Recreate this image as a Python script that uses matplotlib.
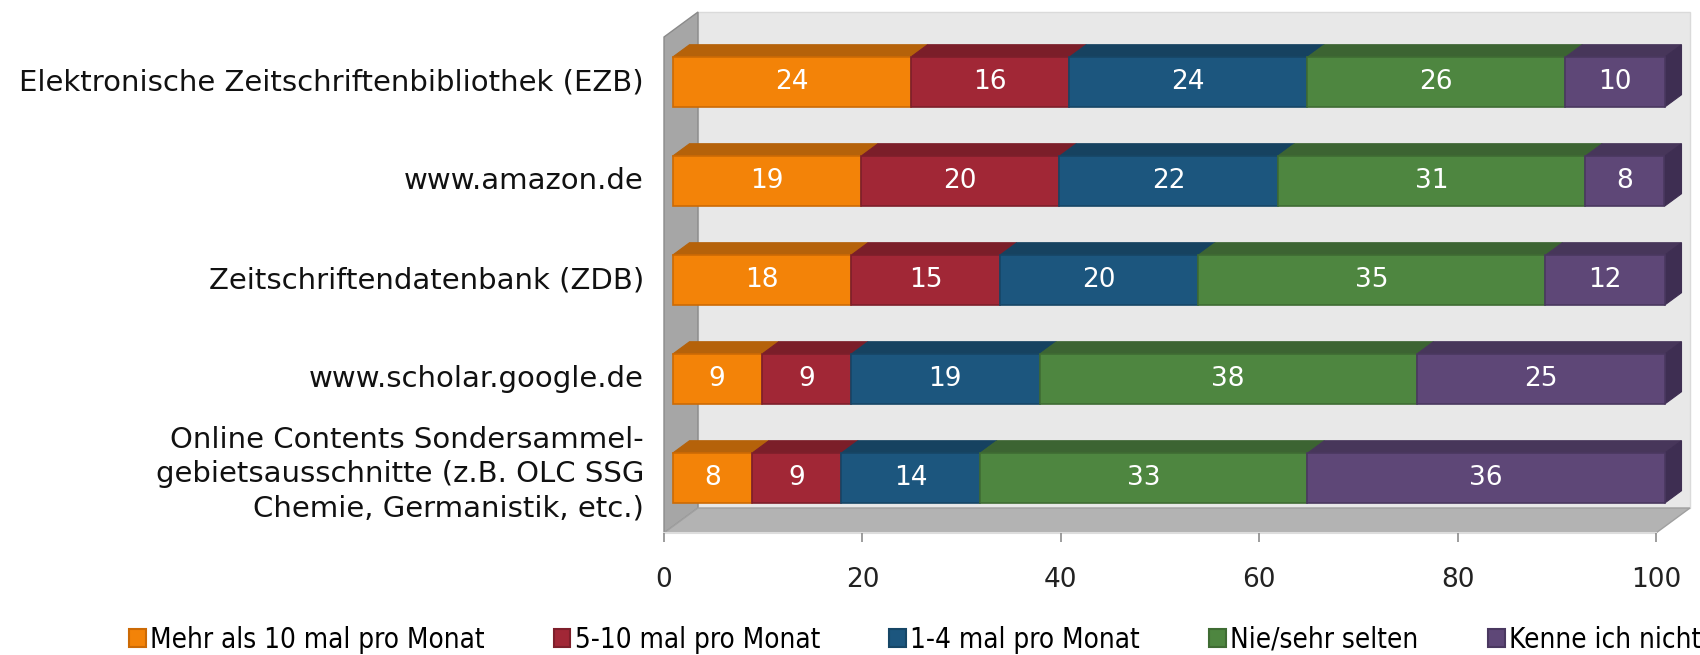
import matplotlib
matplotlib.use("Agg")
import matplotlib.pyplot as plt
from matplotlib.patches import Polygon, Patch
from matplotlib.transforms import ScaledTranslation
import numpy as np

categories = [
    "Elektronische Zeitschriftenbibliothek (EZB)",
    "www.amazon.de",
    "Zeitschriftendatenbank (ZDB)",
    "www.scholar.google.de",
    "Online Contents Sondersammel-\ngebietsausschnitte (z.B. OLC SSG\nChemie, Germanistik, etc.)",
]
series_names = ["Mehr als 10 mal pro Monat", "5-10 mal pro Monat", "1-4 mal pro Monat",
                "Nie/sehr selten", "Kenne ich nicht"]
mehr10 = [24, 19, 18, 9, 8]
mal5_10 = [16, 20, 15, 9, 9]
mal1_4 = [24, 22, 20, 19, 14]
nie = [26, 31, 35, 38, 33]
kenne = [10, 8, 12, 25, 36]
xticks = [0, 20, 40, 60, 80, 100]

series = [mehr10, mal5_10, mal1_4, nie, kenne]
front_c = ['#F38308', '#A12736', '#1C567E', '#4E8640', '#5E4777']
top_c = ['#B5620A', '#7B1E29', '#164260', '#3C6432', '#47365A']
edge_c = ['#CC6A05', '#7E1F2B', '#164666', '#3F6C33', '#4A3860']
side_c = '#3E2E52'

fig = plt.figure(figsize=(17, 6.55), dpi=100)
W, H = 1700, 655
ax = fig.add_axes([664 / W, (H - 533) / H, (1656 - 664) / W, (533 - 37) / H])
ax.set_xlim(0, 100)
ylo, yhi = 4.49, -0.52
ax.set_ylim(ylo, yhi)
ax.patch.set_alpha(0)
for s in ax.spines.values():
    s.set_visible(False)

DX = 34 / 9.92       # depth offset in x data units
DY = -25 / 99.0      # depth offset in y data units
hh = 0.2525          # half bar height

# walls and floor
back = Polygon([(DX, yhi + DY), (100 + DX, yhi + DY), (100 + DX, ylo + DY), (DX, ylo + DY)],
               closed=True, fc='#E8E8E8', ec='#DADADA', lw=1, clip_on=False, zorder=0)
left = Polygon([(0, yhi), (DX, yhi + DY), (DX, ylo + DY), (0, ylo)],
               closed=True, fc='#A6A6A6', ec='#8A8A8A', lw=1, clip_on=False, zorder=0.5)
floor = Polygon([(0, ylo), (100, ylo), (100 + DX, ylo + DY), (DX, ylo + DY)],
                closed=True, fc='#B3B3B3', ec='#A0A0A0', lw=1, clip_on=False, zorder=0.6)
for p in (back, left, floor):
    ax.add_patch(p)
ax.plot([0, 100], [ylo, ylo], color='#DDDDDD', lw=1.5, clip_on=False, zorder=0.7)

ypos = np.arange(len(categories))
cum = np.zeros(len(categories))
d0, d1 = 0.25, 0.75
for k, vals in enumerate(series):
    vals = np.array(vals, dtype=float)
    for i in range(len(categories)):
        a, b = cum[i], cum[i] + vals[i]
        c = ypos[i]
        ty0 = c + d0 * DY - hh
        ty1 = c + d1 * DY - hh
        top = Polygon([(a + d0 * DX, ty0), (b + d0 * DX, ty0), (b + d1 * DX, ty1), (a + d1 * DX, ty1)],
                      closed=True, fc=top_c[k], ec=top_c[k], lw=0.8, clip_on=False, zorder=2)
        ax.add_patch(top)
        if k == len(series) - 1:
            side = Polygon([(b + d0 * DX, ty0), (b + d1 * DX, ty1), (b + d1 * DX, ty1 + 2 * hh),
                            (b + d0 * DX, ty0 + 2 * hh)],
                           closed=True, fc=side_c, ec=side_c, lw=0.8, clip_on=False, zorder=2)
            ax.add_patch(side)
    ax.barh(ypos + d0 * DY, vals, left=cum + d0 * DX, height=2 * hh, color=front_c[k],
            edgecolor=edge_c[k], linewidth=1.2, zorder=3, clip_on=False)
    for i in range(len(categories)):
        ax.text(cum[i] + vals[i] / 2 + d0 * DX, ypos[i] + d0 * DY, f"{int(vals[i])}",
                ha='center', va='center', color='white', fontsize=19, zorder=4)
    cum = cum + vals

ax.set_xticks(xticks)
ax.set_xticklabels([str(t) for t in xticks], fontsize=19, color='#222222')
ax.tick_params(axis='x', direction='out', length=6.5, width=1.2, color='#8C8C8C', pad=18)
ax.set_yticks([])

# category labels
lab_tr = ax.get_yaxis_transform() + ScaledTranslation(-0.20, 0, fig.dpi_scale_trans)
for i, lab in enumerate(categories):
    nlines = lab.count("\n") + 1
    yoff = -0.04 if nlines > 1 else 0.0
    ax.text(0, ypos[i] + d0 * DY + yoff, lab, transform=lab_tr, ha='right', va='center',
            fontsize=21, color='#111111', linespacing=1.27, clip_on=False)

handles = [Patch(facecolor=front_c[k], edgecolor=edge_c[k], linewidth=1.5) for k in range(5)]
leg = fig.legend(handles, series_names, loc='center', bbox_to_anchor=(915 / W, 15 / H), ncol=5,
                 frameon=False, fontsize=20, handlelength=0.6, handleheight=0.62,
                 handletextpad=0.15, columnspacing=2.5)
for t in leg.get_texts():
    t.set_fontstretch('condensed')

fig.savefig("out.png", dpi=100)
